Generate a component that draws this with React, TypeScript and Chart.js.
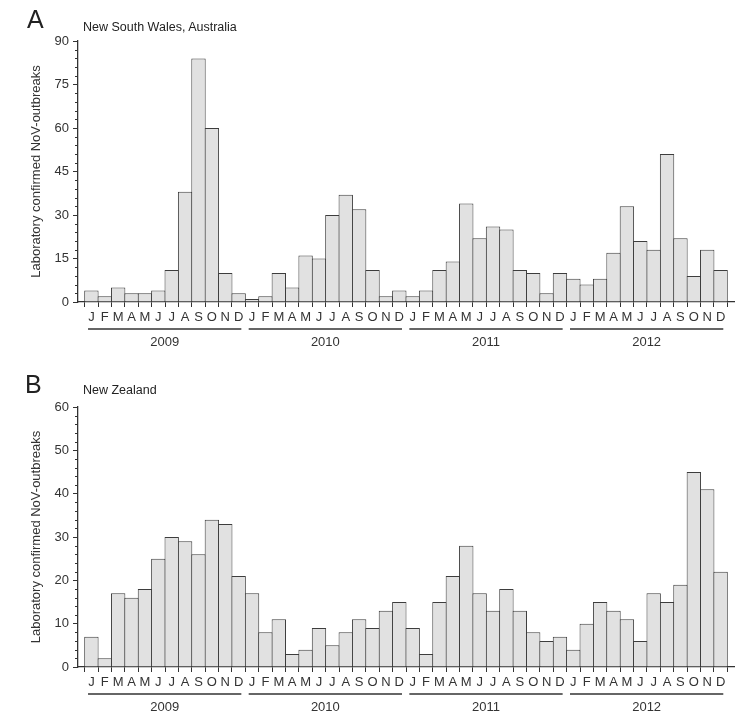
import React, { useEffect, useRef } from 'react';
import { Chart, registerables } from 'chart.js';

Chart.register(...registerables);

// ---------- data ----------
const monthLetters = ['J', 'F', 'M', 'A', 'M', 'J', 'J', 'A', 'S', 'O', 'N', 'D'];
const years = ['2009', '2010', '2011', '2012'];

const nsw2009 = [4, 2, 5, 3, 3, 4, 11, 38, 84, 60, 10, 3];
const nsw2010 = [1, 2, 10, 5, 16, 15, 30, 37, 32, 11, 2, 4];
const nsw2011 = [2, 4, 11, 14, 34, 22, 26, 25, 11, 10, 3, 10];
const nsw2012 = [8, 6, 8, 17, 33, 21, 18, 51, 22, 9, 18, 11];

const nz2009 = [7, 2, 17, 16, 18, 25, 30, 29, 26, 34, 33, 21];
const nz2010 = [17, 8, 11, 3, 4, 9, 5, 8, 11, 9, 13, 15];
const nz2011 = [9, 3, 15, 21, 28, 17, 13, 18, 13, 8, 6, 7];
const nz2012 = [4, 10, 15, 13, 11, 6, 17, 15, 19, 45, 41, 22];

const nswYTicks = [0, 15, 30, 45, 60, 75, 90];
const nzYTicks = [0, 10, 20, 30, 40, 50, 60];

const yTitle = 'Laboratory confirmed NoV-outbreaks';

// ---------- styles ----------
const FONT = '"Liberation Sans", Arial, Helvetica, sans-serif';
const INK = '#333333';
const BAR_FILL = '#e1e1e1';
const BAR_EDGE = '#3d3d3d';

const decorPlugin = {
  id: 'decor',
  afterDraw(chart: any, _args: any, opts: any) {
    const { ctx, chartArea, scales } = chart;
    const x = scales.x;
    const y = scales.y;
    ctx.save();
    ctx.strokeStyle = INK;
    ctx.lineWidth = 1;
    // minor y ticks
    for (let v = 0; v <= opts.max + 1e-9; v += opts.minor) {
      if (opts.majors.includes(v)) continue;
      const py = Math.round(y.getPixelForValue(v)) + 0.5;
      ctx.beginPath();
      ctx.moveTo(chartArea.left - 3, py);
      ctx.lineTo(chartArea.left, py);
      ctx.stroke();
    }
    // year underlines and labels
    ctx.font = `13px ${FONT}`;
    ctx.fillStyle = INK;
    ctx.textAlign = 'center';
    ctx.textBaseline = 'middle';
    years.forEach((yr, i) => {
      const x0 = x.getPixelForValue(i * 12 - 0.25);
      const x1 = x.getPixelForValue(i * 12 + 11 + 0.2);
      const ly = chartArea.bottom + 27;
      ctx.lineWidth = 1.3;
      ctx.beginPath();
      ctx.moveTo(x0, ly);
      ctx.lineTo(x1, ly);
      ctx.stroke();
      ctx.fillText(yr, (x0 + x1) / 2, chartArea.bottom + 40.5);
    });
    ctx.restore();
  },
};

function makeConfig(values: number[], yTicks: number[], minor: number, padTop: number): any {
  const yMax = yTicks[yTicks.length - 1];
  return {
    type: 'bar',
    data: {
      datasets: [
        {
          data: values.map((v, i) => ({ x: i, y: v })),
          backgroundColor: BAR_FILL,
          borderColor: BAR_EDGE,
          borderWidth: 1,
          borderSkipped: 'bottom',
          barPercentage: 1.075,
          categoryPercentage: 1,
          inflateAmount: 0,
        },
      ],
    },
    options: {
      animation: false,
      responsive: false,
      maintainAspectRatio: false,
      layout: { padding: { top: padTop, right: 16, left: 0, bottom: 0 } },
      plugins: {
        legend: { display: false },
        tooltip: { enabled: false },
        decor: { max: yMax, minor, majors: yTicks },
      },
      scales: {
        x: {
          type: 'linear',
          min: -1,
          max: values.length,
          offset: false,
          afterBuildTicks: (s: any) => {
            s.ticks = values.map((_, i) => ({ value: i }));
          },
          afterFit: (s: any) => {
            s.height = 58;
          },
          grid: { drawOnChartArea: false, drawTicks: true, tickLength: 5, color: INK, lineWidth: 1 },
          border: { color: INK, width: 1.3 },
          ticks: {
            callback: (v: number) => monthLetters[((Math.round(v) % 12) + 12) % 12],
            font: { family: FONT, size: 13 },
            color: INK,
            padding: 3,
            maxRotation: 0,
            autoSkip: false,
          },
        },
        y: {
          type: 'linear',
          min: 0,
          max: yMax,
          afterBuildTicks: (s: any) => {
            s.ticks = yTicks.map((v) => ({ value: v }));
          },
          afterFit: (s: any) => {
            s.width = 78;
          },
          grid: { drawOnChartArea: false, drawTicks: true, tickLength: 5, color: INK, lineWidth: 1 },
          border: { color: INK, width: 1.3 },
          ticks: {
            font: { family: FONT, size: 13 },
            color: INK,
            padding: 4,
          },
          title: {
            display: true,
            text: yTitle,
            font: { family: FONT, size: 13 },
            color: INK,
            padding: { top: 29, bottom: 0 },
          },
        },
      },
    },
    plugins: [decorPlugin],
  };
}

function Panel(props: { top: number; height: number; values: number[]; yTicks: number[]; minor: number; padTop: number }) {
  const ref = useRef<HTMLCanvasElement>(null);
  useEffect(() => {
    const chart = new Chart(ref.current as HTMLCanvasElement, makeConfig(props.values, props.yTicks, props.minor, props.padTop));
    return () => chart.destroy();
  }, []);
  return (
    <canvas
      ref={ref}
      width={750}
      height={props.height}
      style={{ position: 'absolute', left: 0, top: props.top, width: 750, height: props.height }}
    />
  );
}

const letterStyle: React.CSSProperties = {
  position: 'absolute',
  fontFamily: FONT,
  fontSize: 25,
  lineHeight: 1,
  color: '#222',
  whiteSpace: 'nowrap',
};
const subStyle: React.CSSProperties = {
  position: 'absolute',
  fontFamily: FONT,
  fontSize: 12.5,
  lineHeight: 1,
  color: '#222',
  whiteSpace: 'nowrap',
};

export default function App() {
  const nswValues = [...nsw2009, ...nsw2010, ...nsw2011, ...nsw2012];
  const nzValues = [...nz2009, ...nz2010, ...nz2011, ...nz2012];
  return (
    <div style={{ position: 'absolute', left: 0, top: 0, width: 750, height: 725, background: '#fff', overflow: 'hidden' }}>
      <Panel top={0} height={360} values={nswValues} yTicks={nswYTicks} minor={3} padTop={41} />
      <Panel top={360} height={365} values={nzValues} yTicks={nzYTicks} minor={2} padTop={47} />
      <div style={{ ...letterStyle, left: 27, top: 7 }}>A</div>
      <div style={{ ...subStyle, left: 83, top: 21 }}>New South Wales, Australia</div>
      <div style={{ ...letterStyle, left: 25, top: 372 }}>B</div>
      <div style={{ ...subStyle, left: 83, top: 383.5 }}>New Zealand</div>
    </div>
  );
}
